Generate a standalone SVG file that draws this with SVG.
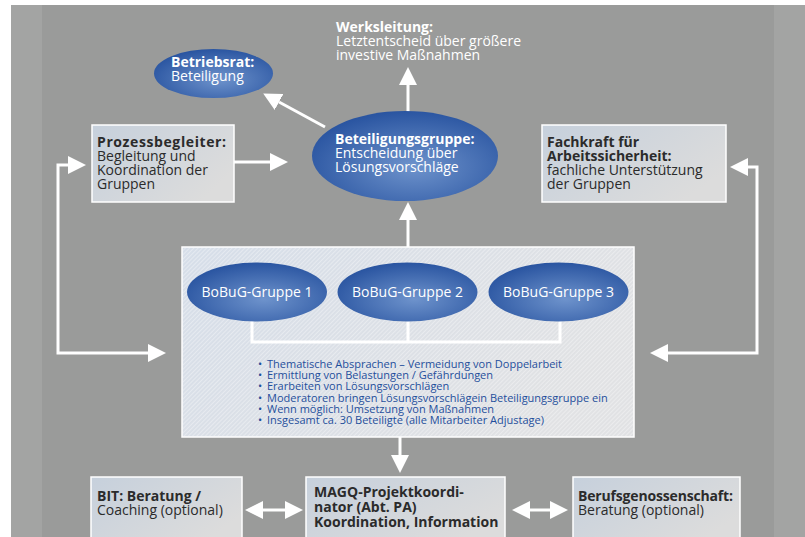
<svg xmlns="http://www.w3.org/2000/svg" width="805" height="537" viewBox="0 0 805 537">
<defs>
  <radialGradient id="eg" cx="0.55" cy="0.62" r="0.62">
    <stop offset="0" stop-color="#6e93cc"/>
    <stop offset="1" stop-color="#2a55a1"/>
  </radialGradient>
  <linearGradient id="bg" x1="0" y1="0" x2="1" y2="0.6">
    <stop offset="0" stop-color="#c6d0dc"/>
    <stop offset="1" stop-color="#dcdcdc"/>
  </linearGradient>
  <linearGradient id="pg" x1="0" y1="0" x2="1" y2="0.4">
    <stop offset="0" stop-color="#d6dee9"/>
    <stop offset="1" stop-color="#e1e2e4"/>
  </linearGradient>
  <pattern id="hatch" width="3" height="3" patternUnits="userSpaceOnUse" patternTransform="rotate(45)">
    <rect width="1" height="3" fill="#ffffff" opacity="0.35"/>
  </pattern>
  <marker id="ah" markerUnits="userSpaceOnUse" markerWidth="18" markerHeight="18" viewBox="0 0 18 18" refX="0" refY="9" orient="auto-start-reverse">
    <path d="M0,0 L18,9 L0,18 z" fill="#fff"/>
  </marker>
  <style>
    .bx{fill:url(#bg);stroke:#fff;stroke-width:1.5}
    .el{fill:url(#eg)}
    .t{font-family:"Open Sans","Noto Sans",sans-serif;font-size:14px}
    .dk{fill:#2b2b2b}
    .wt{fill:#fff}
    .b{font-weight:bold}
    .bl{fill:#1f4f9c;font-family:"Open Sans","Noto Sans",sans-serif;font-size:11px}
    .cn{fill:none;stroke:#fff;stroke-width:3}
    .ar{marker-end:url(#ah)}
    .ar2{marker-start:url(#ah);marker-end:url(#ah)}
  </style>
</defs>

<rect width="805" height="537" fill="#fff"/>
<rect x="11" y="5" width="794" height="532" fill="#a3a4a3"/>
<rect x="42" y="5" width="732" height="532" fill="#9a9b9a"/>

<g id="panel">
  <rect x="182" y="247" width="452" height="190" fill="url(#pg)" stroke="#fff" stroke-width="1.5"/>
  <rect x="183" y="248" width="450" height="188" fill="url(#hatch)"/>
</g>

<g id="connectors">
  <path class="cn ar" d="M234,162 H270"/>
  <path class="cn ar" d="M408,112 V85"/>
  <path class="cn ar" d="M325,127 L279,102"/>
  <path class="cn ar" d="M408,247 V220"/>
  <path class="cn ar2" d="M68,165 H58 V353 H148"/>
  <path class="cn ar2" d="M748,167 H757 V353 H668"/>
  <path class="cn" d="M252,320 V342 H560 V320 M408,320 V342"/>
  <path class="cn ar" d="M400,437 V455"/>
  <path class="cn ar2" d="M263,510 H285"/>
  <path class="cn ar2" d="M530,510 H550"/>
</g>

<g id="werksleitung">
  <text class="t wt" x="336" y="32"><tspan class="b">Werksleitung:</tspan><tspan x="336" y="46">Letztentscheid über größere</tspan><tspan x="336" y="60">investive Maßnahmen</tspan></text>
</g>

<g id="betriebsrat">
  <ellipse class="el" cx="213.5" cy="73.5" rx="59.5" ry="24.5"/>
  <text class="t wt" x="171" y="67"><tspan class="b">Betriebsrat:</tspan><tspan x="171" y="81">Beteiligung</tspan></text>
</g>

<g id="beteiligungsgruppe">
  <ellipse class="el" cx="405" cy="156" rx="93" ry="45"/>
  <text class="t wt" x="335" y="144"><tspan class="b">Beteiligungsgruppe:</tspan><tspan x="335" y="158">Entscheidung über</tspan><tspan x="335" y="172">Lösungsvorschläge</tspan></text>
</g>

<g id="prozessbegleiter">
  <rect class="bx" x="92" y="125" width="142" height="77"/>
  <text class="t dk" x="97" y="147"><tspan class="b" textLength="129">Prozessbegleiter:</tspan><tspan x="97" y="161">Begleitung und</tspan><tspan x="97" y="175">Koordination der</tspan><tspan x="97" y="189">Gruppen</tspan></text>
</g>

<g id="fachkraft">
  <rect class="bx" x="542" y="125" width="184" height="77"/>
  <text class="t dk" x="547" y="147"><tspan class="b">Fachkraft für</tspan><tspan class="b" x="547" y="161">Arbeitssicherheit:</tspan><tspan x="547" y="175">fachliche Unterstützung</tspan><tspan x="547" y="189">der Gruppen</tspan></text>
</g>

<g id="gruppe1">
  <ellipse class="el" cx="257" cy="292" rx="70" ry="29.5"/>
  <text class="t wt" x="257" y="297" text-anchor="middle">BoBuG-Gruppe 1</text>
</g>
<g id="gruppe2">
  <ellipse class="el" cx="407.5" cy="292" rx="70" ry="29.5"/>
  <text class="t wt" x="407.5" y="297" text-anchor="middle">BoBuG-Gruppe 2</text>
</g>
<g id="gruppe3">
  <ellipse class="el" cx="558.5" cy="292" rx="70" ry="29.5"/>
  <text class="t wt" x="558.5" y="297" text-anchor="middle">BoBuG-Gruppe 3</text>
</g>

<g id="aufgaben">
  <text class="bl" x="258" y="368">•<tspan x="267">Thematische Absprachen – Vermeidung von Doppelarbeit</tspan></text>
  <text class="bl" x="258" y="379.2">•<tspan x="267">Ermittlung von Belastungen / Gefährdungen</tspan></text>
  <text class="bl" x="258" y="390.4">•<tspan x="267">Erarbeiten von Lösungsvorschlägen</tspan></text>
  <text class="bl" x="258" y="401.6">•<tspan x="267">Moderatoren bringen Lösungsvorschlägein Beteiligungsgruppe ein</tspan></text>
  <text class="bl" x="258" y="412.8">•<tspan x="267">Wenn möglich: Umsetzung von Maßnahmen</tspan></text>
  <text class="bl" x="258" y="424">•<tspan x="267">Insgesamt ca. 30 Beteiligte (alle Mitarbeiter Adjustage)</tspan></text>
</g>

<g id="bit">
  <rect class="bx" x="91" y="477" width="151" height="64"/>
  <text class="t dk" x="97" y="501"><tspan class="b">BIT: Beratung /</tspan><tspan x="97" y="515">Coaching (optional)</tspan></text>
</g>

<g id="magq">
  <rect class="bx" x="306" y="477" width="199" height="64"/>
  <text class="t dk b" x="314" y="497">MAGQ-Projektkoordi-<tspan x="314" y="512">nator (Abt. PA)</tspan><tspan x="314" y="527">Koordination, Information</tspan></text>
</g>

<g id="berufsgenossenschaft">
  <rect class="bx" x="573" y="477" width="167" height="64"/>
  <text class="t dk" x="578" y="501"><tspan class="b" textLength="155">Berufsgenossenschaft:</tspan><tspan x="578" y="515">Beratung (optional)</tspan></text>
</g>
</svg>
